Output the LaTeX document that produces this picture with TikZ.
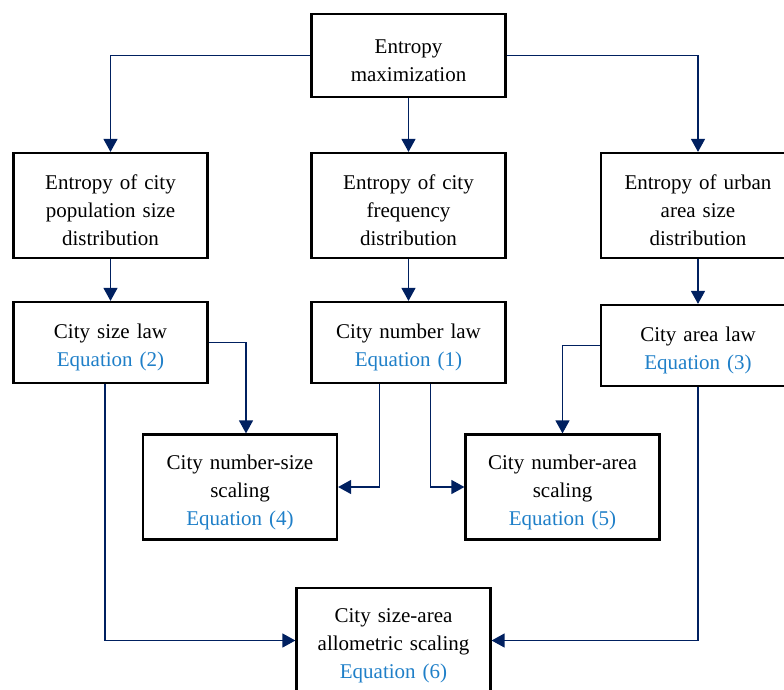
\documentclass[tikz,border=0pt]{standalone}
\usepackage{fontspec}
\setmainfont{Liberation Serif}
\usepackage{tikz}
\usetikzlibrary{arrows.meta,positioning}

\definecolor{navy}{RGB}{0,32,96}
\definecolor{eqblue}{RGB}{31,127,200}
\newcommand{\eqline}[1]{\\\textcolor{eqblue}{Equation (#1)}}

\begin{document}
\begin{tikzpicture}[x=1pt,y=1pt,on grid,
    box/.style={draw,line width=2.2pt,text width=186pt,inner xsep=4pt,
      align=center,font=\fontsize{21}{28}\selectfont,
      execute at begin node={\rule{0pt}{25pt}}},
    flow/.style={draw=navy,line width=1.3pt,-{Triangle[length=13pt,width=14pt]}}]
   \useasboundingbox (0,0) rectangle (784,-689);
   \node[box,minimum height=83pt] (top) at (408.5,-55.5) {Entropy\\maximization};
   \node[box,minimum height=105pt] (pop) [below left=150pt and 298pt of top] {Entropy of city\\population size\\distribution};
   \node[box,minimum height=105pt] (freq) [below=150pt of top] {Entropy of city\\frequency\\distribution};
   \node[box,minimum height=105pt] (area) [below right=150pt and 289.5pt of top] {Entropy of urban\\area size\\distribution};
   \node[box,minimum height=81pt] (sizelaw) [below=137pt of pop] {City size law\eqline{2}};
   \node[box,minimum height=81pt] (numlaw) [below=137pt of freq] {City number law\eqline{1}};
   \node[box,minimum height=81pt] (arealaw) [below=140pt of area] {City area law\eqline{3}};
   \node[box,minimum height=105pt] (numsize) [below right=144.5pt and 129.5pt of sizelaw] {City number-size\\scaling\eqline{4}};
   \node[box,minimum height=105pt] (numarea) [below right=144.5pt and 154pt of numlaw] {City number-area\\scaling\eqline{5}};
   \node[box,minimum height=105pt] (sizearea) [below right=153.5pt and 153.5pt of numsize] {City size-area\\allometric scaling\eqline{6}};
    \path[flow]
    (top.west) -| (pop.north);
   \path[flow] (top) -- (freq);
   \path[flow] (top.east) -| (area.north);
   \path[flow] (pop) -- (sizelaw);
   \path[flow] (freq) -- (numlaw);
   \path[flow] (area) -- (arealaw);
   \path[flow] (sizelaw.east) -| ([xshift=6pt]numsize.north);
   \path[flow] ([xshift=-29pt]numlaw.south) |- (numsize.east);
   \path[flow] ([xshift=22pt]numlaw.south) |- (numarea.west);
   \path[flow] (arealaw.west) -| (numarea.north);
   \path[flow] ([xshift=-5.5pt]sizelaw.south) |- (sizearea.west);
   \path[flow] (arealaw.south) |- (sizearea.east);
\end{tikzpicture}
\end{document}
